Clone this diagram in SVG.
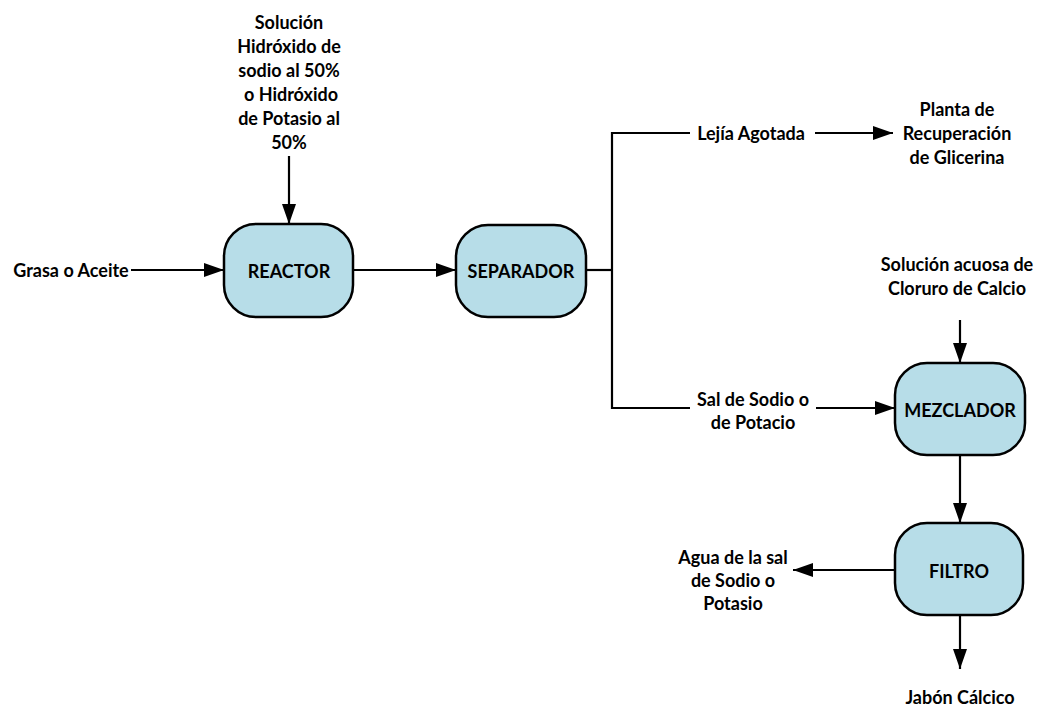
<svg xmlns="http://www.w3.org/2000/svg" width="1044" height="707" viewBox="0 0 1044 707">
  <style>
    .box { fill: #b7dde8; stroke: #000; stroke-width: 2.5; }
    .lbl { font-family: "Lato", "Open Sans", sans-serif; font-weight: bold; font-size: 18px; fill: #000; text-anchor: middle; dominant-baseline: central; }
    .ln { fill: none; stroke: #000; stroke-width: 2.2; }
    .arr { marker-end: url(#head); }
  </style>
  <defs>
    <marker id="head" markerUnits="userSpaceOnUse" markerWidth="22" markerHeight="16" refX="20" refY="7" orient="auto">
      <path d="M0,0 L20,7 L0,14 Z" fill="#000"/>
    </marker>
  </defs>
  <rect width="1044" height="707" fill="#fff"/>

  <!-- connectors -->
  <g id="connectors">
    <line class="ln arr" x1="289" y1="156" x2="289" y2="224"/>
    <line class="ln arr" x1="131" y1="270" x2="224" y2="270"/>
    <line class="ln arr" x1="353" y1="270" x2="456" y2="270"/>
    <polyline class="ln" points="586,270 612,270"/>
    <polyline class="ln" points="690,133 612,133 612,408 690,408"/>
    <line class="ln arr" x1="815" y1="133" x2="893" y2="133"/>
    <line class="ln arr" x1="816" y1="408" x2="895" y2="408"/>
    <line class="ln arr" x1="960" y1="320" x2="960" y2="363"/>
    <line class="ln arr" x1="960" y1="455" x2="960" y2="523"/>
    <line class="ln arr" x1="895" y1="570" x2="793" y2="570"/>
    <line class="ln arr" x1="960" y1="615" x2="960" y2="669"/>
  </g>

  <!-- process units -->
  <g id="reactor">
    <rect class="box" x="224" y="224" width="129" height="93" rx="32" ry="32"/>
    <text class="lbl" x="289" y="271">REACTOR</text>
  </g>
  <g id="separador">
    <rect class="box" x="456" y="225" width="130" height="92" rx="32" ry="32"/>
    <text class="lbl" x="521" y="271">SEPARADOR</text>
  </g>
  <g id="mezclador">
    <rect class="box" x="895" y="363" width="130" height="92" rx="32" ry="32"/>
    <text class="lbl" x="960" y="410">MEZCLADOR</text>
  </g>
  <g id="filtro">
    <rect class="box" x="895" y="523" width="128" height="92" rx="32" ry="32"/>
    <text class="lbl" x="959" y="571">FILTRO</text>
  </g>

  <!-- stream labels -->
  <g id="hidroxido">
    <text class="lbl" x="289" y="22">Solución</text>
    <text class="lbl" x="289" y="46">Hidróxido de</text>
    <text class="lbl" x="289" y="70">sodio al 50%</text>
    <text class="lbl" x="291" y="94"> o Hidróxido</text>
    <text class="lbl" x="289" y="118">de Potasio al</text>
    <text class="lbl" x="289" y="142">50%</text>
  </g>
  <g id="grasa">
    <text class="lbl" x="71" y="270">Grasa o Aceite</text>
  </g>
  <g id="lejia">
    <text class="lbl" x="751" y="133">Lejía Agotada</text>
  </g>
  <g id="planta">
    <text class="lbl" x="957" y="109">Planta de</text>
    <text class="lbl" x="957" y="133">Recuperación</text>
    <text class="lbl" x="957" y="157">de Glicerina</text>
  </g>
  <g id="cloruro">
    <text class="lbl" x="957" y="264">Solución acuosa de</text>
    <text class="lbl" x="957" y="288">Cloruro de Calcio</text>
  </g>
  <g id="sal">
    <text class="lbl" x="753" y="399">Sal de Sodio o</text>
    <text class="lbl" x="753" y="422">de Potacio</text>
  </g>
  <g id="agua">
    <text class="lbl" x="733" y="557">Agua de la sal</text>
    <text class="lbl" x="733" y="580">de Sodio o</text>
    <text class="lbl" x="733" y="603">Potasio</text>
  </g>
  <g id="jabon">
    <text class="lbl" x="960" y="697">Jabón Cálcico</text>
  </g>
</svg>
